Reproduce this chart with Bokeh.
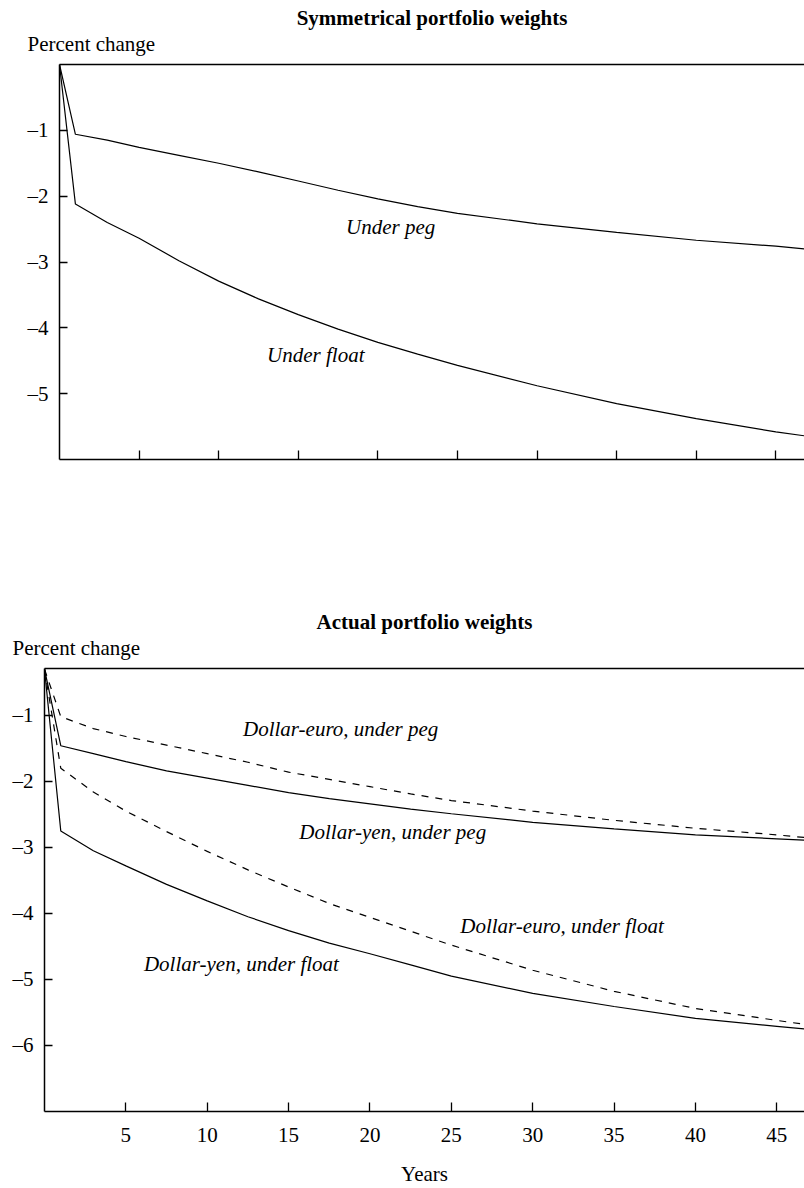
from bokeh.plotting import figure
from bokeh.models import Range1d, FixedTicker, LinearAxis, Title, Label
from bokeh.layouts import column
from bokeh.embed import file_html
from bokeh.resources import INLINE

FONT = "Liberation Serif"
FS = "21px"

# ---- data: top panel (symmetrical portfolio weights) ----
sym_years = [0, 1, 3, 5, 7.5, 10, 12.5, 15, 17.5, 20, 22.5, 25, 30, 35, 40, 45, 46.8]
sym_peg = [0, -1.06, -1.15, -1.26, -1.38, -1.50, -1.63, -1.77, -1.91, -2.04, -2.16,
           -2.26, -2.42, -2.55, -2.67, -2.76, -2.80]
sym_float = [0, -2.12, -2.40, -2.64, -2.98, -3.29, -3.56, -3.80, -4.02, -4.22, -4.40,
             -4.57, -4.88, -5.15, -5.38, -5.58, -5.64]

# ---- data: bottom panel (actual portfolio weights) ----
act_years = [0, 1, 3, 5, 7.5, 10, 12.5, 15, 17.5, 20, 22.5, 25, 30, 35, 40, 45, 46.7]
euro_peg = [-0.3, -1.02, -1.20, -1.32, -1.45, -1.58, -1.71, -1.86, -1.97, -2.08, -2.19,
            -2.29, -2.45, -2.59, -2.71, -2.81, -2.85]
yen_peg = [-0.3, -1.46, -1.58, -1.70, -1.84, -1.95, -2.06, -2.17, -2.26, -2.34, -2.42,
           -2.49, -2.62, -2.72, -2.81, -2.87, -2.89]
euro_float = [-0.3, -1.80, -2.16, -2.45, -2.76, -3.06, -3.34, -3.60, -3.85, -4.06, -4.27,
              -4.48, -4.86, -5.18, -5.44, -5.62, -5.68]
yen_float = [-0.3, -2.75, -3.05, -3.28, -3.56, -3.81, -4.05, -4.26, -4.45, -4.61, -4.78,
             -4.95, -5.21, -5.41, -5.59, -5.71, -5.75]

x_ticks = [5, 10, 15, 20, 25, 30, 35, 40, 45]
sym_y_ticks = [-1, -2, -3, -4, -5]
act_y_ticks = [-1, -2, -3, -4, -5, -6]


def make_fig(height, left, top, bottom, xmax, ymin, ymax, yticks, show_x_labels, title):
    p = figure(width=804, height=height, x_range=Range1d(0, xmax), y_range=Range1d(ymin, ymax),
               output_backend="svg", toolbar_location=None, title=None,
               min_border_left=left, min_border_right=0, min_border_top=top,
               min_border_bottom=bottom)
    try:
        p.frame_align = False
    except Exception:
        pass
    p.grid.visible = False
    p.outline_line_color = None
    p.background_fill_color = "white"
    p.border_fill_color = "white"

    xa = p.xaxis[0]
    xa.ticker = FixedTicker(ticks=x_ticks)
    xa.major_tick_in = 9
    xa.major_tick_out = 0
    xa.minor_tick_in = 0
    xa.minor_tick_out = 0
    xa.axis_line_width = 1.5
    xa.major_tick_line_width = 1.3
    xa.major_label_text_font = FONT
    xa.major_label_text_font_size = FS
    xa.major_label_text_color = "black"
    xa.major_label_standoff = 16
    if not show_x_labels:
        xa.major_label_overrides = {t: "" for t in x_ticks}
    else:
        xa.axis_label = "Years"
        xa.axis_label_text_font = FONT
        xa.axis_label_text_font_size = FS
        xa.axis_label_text_font_style = "normal"
        xa.axis_label_text_color = "black"
        xa.axis_label_standoff = 17

    ya = p.yaxis[0]
    ya.ticker = FixedTicker(ticks=yticks)
    ya.major_label_overrides = {t: "\u2013" + str(abs(t)) for t in yticks}
    ya.major_tick_in = 8
    ya.major_tick_out = 0
    ya.minor_tick_in = 0
    ya.minor_tick_out = 0
    ya.axis_line_width = 1.5
    ya.major_tick_line_width = 1.3
    ya.major_label_text_font = FONT
    ya.major_label_text_font_size = FS
    ya.major_label_text_color = "black"
    ya.major_label_standoff = 11
    ya.major_label_orientation = "horizontal"

    # top border line (no right border in the original)
    top_axis = LinearAxis(ticker=FixedTicker(ticks=[]), major_tick_in=0, major_tick_out=0,
                          minor_tick_in=0, minor_tick_out=0, axis_line_width=1.5)
    p.add_layout(top_axis, "above")
    # small spacer between the frame and the "Percent change" caption
    p.add_layout(Title(text="\u00a0", text_font_size="1px", standoff=6), "above")
    p.add_layout(Title(text="Percent change", align="left", offset=-32, text_font=FONT,
                       text_font_size=FS, text_font_style="normal", text_color="black",
                       standoff=0, text_line_height=0.9), "above")
    p.add_layout(Title(text=title, align="center", text_font=FONT, text_font_size=FS,
                       text_font_style="bold", text_color="black", standoff=0), "above")
    return p


def add_label(p, x, y, text):
    p.add_layout(Label(x=x, y=y, text=text, text_align="center", text_baseline="middle",
                       text_font=FONT, text_font_size=FS, text_font_style="italic",
                       text_color="black"))


# ---- top figure ----
p1 = make_fig(575, 59, 64, 116, 46.8, -6, 0, sym_y_ticks, False, "Symmetrical portfolio weights")
p1.line(sym_years, sym_peg, line_color="black", line_width=1.2)
p1.line(sym_years, sym_float, line_color="black", line_width=1.2)
add_label(p1, 20.8, -2.47, "Under peg")
add_label(p1, 16.1, -4.42, "Under float")

# ---- bottom figure ----
p2 = make_fig(613, 44, 93, 76, 46.7, -7, -0.29, act_y_ticks, True, "Actual portfolio weights")
p2.line(act_years, euro_peg, line_color="black", line_width=1.2, line_dash="7 7")
p2.line(act_years, yen_peg, line_color="black", line_width=1.2)
p2.line(act_years, euro_float, line_color="black", line_width=1.2, line_dash="7 7")
p2.line(act_years, yen_float, line_color="black", line_width=1.2)
add_label(p2, 18.2, -1.2, "Dollar-euro, under peg")
add_label(p2, 21.4, -2.77, "Dollar-yen, under peg")
add_label(p2, 31.8, -4.19, "Dollar-euro, under float")
add_label(p2, 12.1, -4.76, "Dollar-yen, under float")

layout = column(p1, p2, spacing=0)
open("out.html", "w").write(file_html(layout, INLINE))
